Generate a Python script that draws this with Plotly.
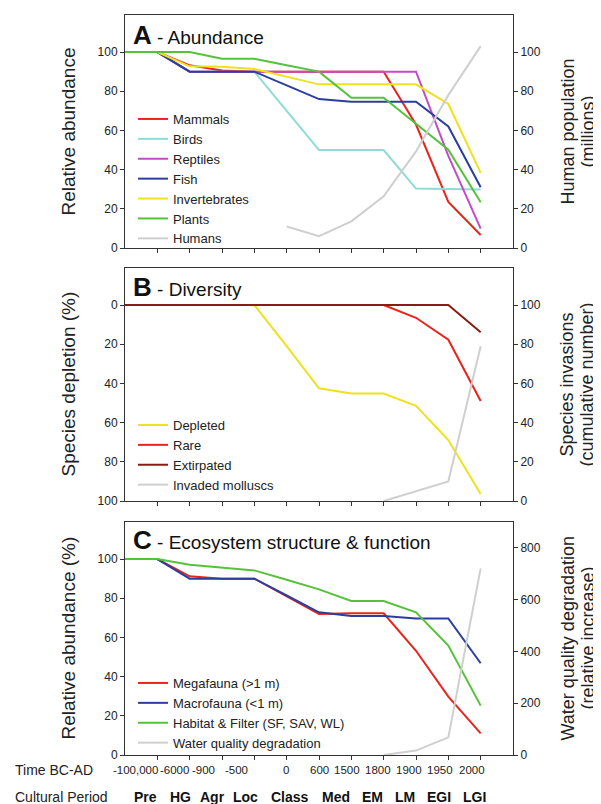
import plotly.graph_objects as go

# ---------------- data ----------------
x_idx = [0, 1, 2, 3, 4, 5, 6, 7, 8, 9, 10, 11]
time_labels = ["-100,000", "-6000", "-900", "-500", "0", "600", "1500", "1800", "1900", "1950", "2000"]
period_labels = ["Pre", "HG", "Agr", "Loc", "Class", "Med", "EM", "LM", "EGI", "LGI"]

# Panel A - Abundance
mammals = [100, 100, 93.2, 90.6, 90, 90, 90, 90, 90, 63, 23.5, 6.6]
birds = [100, 100, 90, 90, 90, 70, 50, 50, 50, 30.3, 30, 29.8]
reptiles = [100, 100, 90, 90, 90, 90, 90, 90, 90, 90, 47, 9.9]
fish = [100, 100, 90, 90, 90, 83, 76, 74.6, 74.6, 74.6, 62, 31]
invertebrates = [100, 100, 92.7, 92.5, 91.3, 87.4, 83.5, 83.5, 83.5, 83.5, 73.5, 38.3]
plants = [100, 100, 100, 96.6, 96.6, 93.3, 90, 76.7, 76.7, 63.4, 50.2, 23.3]
humans = [None, None, None, None, None, 11, 6, 13.6, 26.4, 49.3, 78, 103]

# Panel B - Diversity
depleted = [0, 0, 0, 0, 0, 21, 42.5, 45.2, 45.2, 51.4, 68.9, 96.4]
rare = [0, 0, 0, 0, 0, 0, 0, 0, 0, 6.5, 17.7, 49]
extirpated = [0, 0, 0, 0, 0, 0, 0, 0, 0, 0, 0, 13.9]
invaded = [None, None, None, None, None, None, None, None, 0, 5, 10, 79]

# Panel C - Ecosystem structure & function
megafauna = [100, 100, 91.2, 90, 90, 81, 72, 72.3, 72.3, 53.2, 29.8, 11]
macrofauna = [100, 100, 90, 90, 90, 81.4, 72.8, 70.9, 70.9, 69.7, 69.7, 46.8]
habitat = [100, 100, 97.1, 95.7, 94.2, 89.4, 84.5, 78.6, 78.6, 72.8, 55.8, 25.2]
water = [None, None, None, None, None, None, None, None, 0, 17, 68, 721]

# ---------------- style ----------------
RED = "#e8241c"
CYAN = "#8ddcd6"
MAG = "#c24cc6"
BLUE = "#2b3e9e"
YEL = "#eee21e"
GRN = "#55c23a"
GRAY = "#cfcfcf"
DRED = "#8a1c14"
AX = "#333333"
FONT = "Liberation Sans, Arial, Helvetica, sans-serif"

# page geometry (the page body has an 8px margin)
OFF = 8
W, H = 601 - OFF, 804 - OFF
PLOT_L, PLOT_R, PLOT_T, PLOT_B = 125, 513, 15, 755
L = PLOT_L - OFF
T = PLOT_T - OFF
R = W - (PLOT_R - OFF)
B = H - (PLOT_B - OFF)
PH = PLOT_B - PLOT_T
PW = PLOT_R - PLOT_L


def py(p):  # page pixel y -> paper y
    return (PLOT_B - p) / PH


def px(p):  # page pixel x -> paper x
    return (p - PLOT_L) / PW


fig = go.Figure()


def add(y, name, color, xa, ya, leg):
    fig.add_trace(go.Scatter(x=x_idx, y=y, mode="lines", name=name,
                             line=dict(color=color, width=2),
                             xaxis=xa, yaxis=ya, legend=leg,
                             connectgaps=False, hoverinfo="skip"))


add(mammals, "Mammals", RED, "x", "y", "legend")
add(birds, "Birds", CYAN, "x", "y", "legend")
add(reptiles, "Reptiles", MAG, "x", "y", "legend")
add(fish, "Fish", BLUE, "x", "y", "legend")
add(invertebrates, "Invertebrates", YEL, "x", "y", "legend")
add(plants, "Plants", GRN, "x", "y", "legend")
add(humans, "Humans", GRAY, "x", "y2", "legend")

add(depleted, "Depleted", YEL, "x2", "y3", "legend2")
add(rare, "Rare", RED, "x2", "y3", "legend2")
add(extirpated, "Extirpated", DRED, "x2", "y3", "legend2")
add(invaded, "Invaded molluscs", GRAY, "x2", "y4", "legend2")

add(megafauna, "Megafauna (>1 m)", RED, "x3", "y5", "legend3")
add(macrofauna, "Macrofauna (<1 m)", BLUE, "x3", "y5", "legend3")
add(habitat, "Habitat & Filter (SF, SAV, WL)", GRN, "x3", "y5", "legend3")
add(water, "Water quality degradation", GRAY, "x3", "y6", "legend3")

dA = [py(248), py(15)]
dB = [py(501), py(268)]
dC = [0, py(522)]

xcommon = dict(range=[0, 12], tickvals=x_idx[1:], ticktext=[""] * 11, ticks="outside",
               ticklen=4, tickcolor=AX, showline=True, linecolor=AX, linewidth=1,
               mirror=True, showgrid=False, zeroline=False, domain=[0, 1], fixedrange=True)
ytick = dict(ticks="outside", ticklen=4, tickcolor=AX, showline=True, linecolor=AX,
             linewidth=1, showgrid=False, zeroline=False,
             tickfont=dict(size=12, color="#222", family=FONT))

fig.update_layout(
    width=W, height=H, margin=dict(l=L, r=R, t=T, b=B, autoexpand=False),
    paper_bgcolor="white", plot_bgcolor="white",
    font=dict(family=FONT, color="#222"),
    xaxis=dict(anchor="y", **xcommon),
    xaxis2=dict(anchor="y3", **xcommon),
    xaxis3=dict(anchor="y5", **xcommon),
    yaxis=dict(domain=dA, range=[0, 118.9], tickvals=[0, 20, 40, 60, 80, 100], anchor="x", **ytick),
    yaxis2=dict(domain=dA, range=[0, 118.9], tickvals=[0, 20, 40, 60, 80, 100], overlaying="y",
                side="right", anchor="x", **ytick),
    yaxis3=dict(domain=dB, range=[100, -18.9], tickvals=[0, 20, 40, 60, 80, 100], anchor="x2", **ytick),
    yaxis4=dict(domain=dB, range=[0, 118.9], tickvals=[0, 20, 40, 60, 80, 100], overlaying="y3",
                side="right", anchor="x2", **ytick),
    yaxis5=dict(domain=dC, range=[0, 118.9], tickvals=[0, 20, 40, 60, 80, 100], anchor="x3", **ytick),
    yaxis6=dict(domain=dC, range=[0, 900], tickvals=[0, 200, 400, 600, 800], overlaying="y5",
                side="right", anchor="x3", **ytick),
    showlegend=True,
)

legfont = dict(size=13, color="#222", family=FONT)
for key, ytop in (("legend", 104), ("legend2", 410), ("legend3", 668)):
    fig.update_layout({key: dict(x=px(133), y=py(ytop), xanchor="left", yanchor="top",
                                 bgcolor="rgba(0,0,0,0)", borderwidth=0, font=legfont,
                                 itemwidth=30, tracegroupgap=0)})

ann = []
# panel titles
for letter, rest, yc in (("A", "Abundance", 35), ("B", "Diversity", 287),
                         ("C", "Ecosystem structure & function", 540)):
    ann.append(dict(x=px(131), y=py(yc), xref="paper", yref="paper", xanchor="left",
                    yanchor="middle", showarrow=False,
                    text=f"<b><span style='font-size:26px'>{letter}</span></b> - {rest}",
                    font=dict(size=19, color="#111", family=FONT)))
# left titles
for txt, top, bot in (("Relative abundance", 15, 248), ("Species depletion (%)", 268, 501),
                      ("Relative abundance (%)", 522, 755)):
    ann.append(dict(x=px(68), y=py((top + bot) / 2), xref="paper", yref="paper",
                    xanchor="center", yanchor="middle", textangle=-90, showarrow=False,
                    text=txt, font=dict(size=19, color="#222", family=FONT)))
# right titles (two lines each)
for l1, l2, top, bot in (("Human population", "(millions)", 15, 248),
                         ("Species invasions", "(cumulative number)", 268, 501),
                         ("Water quality degradation", "(relative increase)", 522, 755)):
    for txt, xc in ((l1, 567), (l2, 587)):
        ann.append(dict(x=px(xc), y=py((top + bot) / 2), xref="paper", yref="paper",
                        xanchor="center", yanchor="middle", textangle=-90, showarrow=False,
                        text=txt, font=dict(size=18, color="#222", family=FONT)))

# bottom rows
ann.append(dict(x=px(13), y=py(770), xref="paper", yref="paper", xanchor="left", yanchor="middle",
                showarrow=False, text="Time BC-AD", font=dict(size=14, color="#222", family=FONT)))
ann.append(dict(x=px(13), y=py(797), xref="paper", yref="paper", xanchor="left", yanchor="middle",
                showarrow=False, text="Cultural Period", font=dict(size=14, color="#222", family=FONT)))
time_px = [135, 174, 203, 236, 286, 319, 347, 378, 409, 440, 472]
for lab, p in zip(time_labels, time_px):
    ann.append(dict(x=px(p), y=py(770), xref="paper", yref="paper", xanchor="center", yanchor="middle",
                    showarrow=False, text=lab, font=dict(size=11.5, color="#222", family=FONT)))
period_px = [145, 180, 212, 245, 290, 336, 372, 405, 439, 474]
for lab, p in zip(period_labels, period_px):
    ann.append(dict(x=px(p), y=py(797), xref="paper", yref="paper", xanchor="center", yanchor="middle",
                    showarrow=False, text=f"<b>{lab}</b>", font=dict(size=14, color="#111", family=FONT)))

fig.update_layout(annotations=ann)
fig.write_html("out.html")
